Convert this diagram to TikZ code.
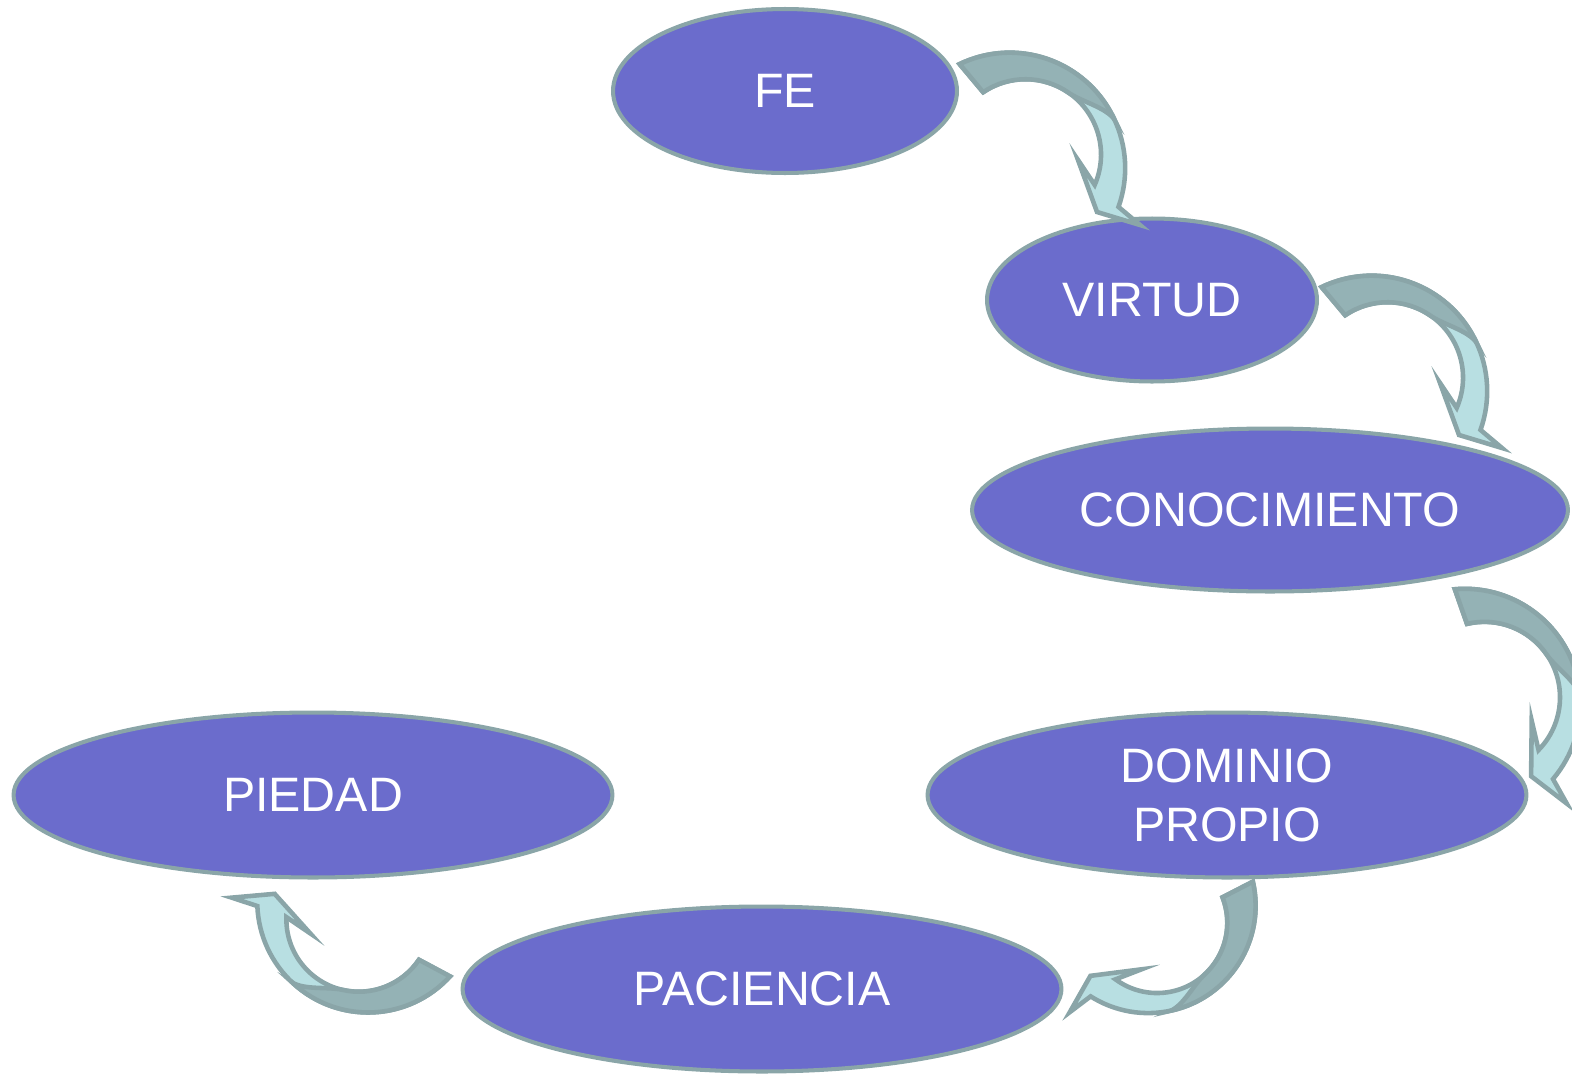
\documentclass[tikz,border=0pt]{standalone}
\usepackage{fontspec}
\setmainfont{Liberation Sans}
\usetikzlibrary{shapes.geometric}
\definecolor{bubblefill}{RGB}{107,108,204}
\definecolor{rimgray}{RGB}{138,165,168}
\definecolor{tailfill}{RGB}{148,178,181}
\definecolor{headfill}{RGB}{184,223,226}
\tikzset{
  bubble/.style = {ellipse, draw=rimgray, line width=2.3pt, fill=bubblefill,
    text=white, inner sep=0pt, align=center,
    font=\fontsize{27.5}{33.5}\selectfont},
  ribbonline/.style = {draw=rimgray, line width=2.6pt},
  curvArrow/.pic = {
    \filldraw[ribbonline, fill=headfill]
    (-80.4,-70.9) arc [start angle=-115.7, end angle=19.6, radius=115.5]
    -- (100,90) -- (57,77) -- (38,25) -- (54.7,49.9)
    arc [start angle=23.6, end angle=-124.1, radius=75.5]
    -- cycle;
    % dark tail
    \filldraw[ribbonline, fill=tailfill]
    (-80.4,-70.9) arc [start angle=-115.7, end angle=-25, radius=115.5]
    .. controls (65.4,-27.8) and (41.1,-33.5) .. (28.8,-42.1)
    arc [start angle=-55, end angle=-124.1, radius=75.5]
    -- cycle;
  }
}
\begin{document}
\begin{tikzpicture}[x=0.02cm, y=-0.02cm]
  \useasboundingbox (0,0) rectangle (1572,1075);

  \node[bubble, minimum width=6.88cm, minimum height=3.28cm] (fe) at (785,91) {FE};
  \node[bubble, minimum width=6.60cm, minimum height=3.26cm] (virtud) at (1152,300) {VIRTUD};
  \node[bubble, minimum width=11.92cm, minimum height=3.26cm] (conoc) at (1270,510) {CONOCIMIENTO};
  \node[bubble, minimum width=11.98cm, minimum height=3.30cm] (dominio) at (1227,795) {DOMINIO\\PROPIO};
  \node[bubble, minimum width=11.98cm, minimum height=3.30cm] (piedad) at (313,795) {PIEDAD};
  \node[bubble, minimum width=11.98cm, minimum height=3.30cm] (paciencia) at (762,989) {PACIENCIA};

  % arrows between the bubbles
  \pic at (1040,135) {curvArrow};
  \pic at (1402,358) {curvArrow};
  \pic[rotate=-20.7] at (1505,684) {curvArrow};
  \pic[rotate=-102.8, scale=0.93] at (1172,940) {curvArrow};
  \pic[rotate=-158.1, scale=0.96] at (353,942) {curvArrow};
\end{tikzpicture}
\end{document}
